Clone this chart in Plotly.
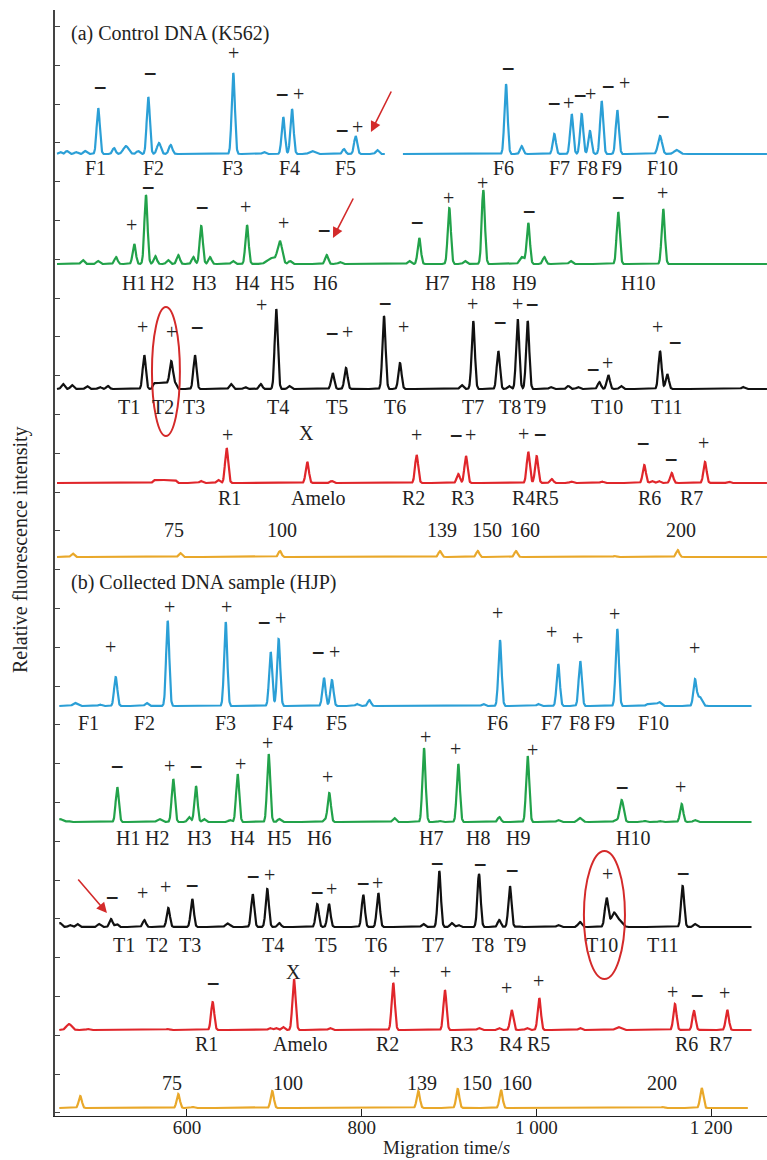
import numpy as np
import plotly.graph_objects as go

# ---------------- data (migration time in s, relative intensity in a.u.) ----------------
# each peak: (time, height[, sigma])
A_BLUE_BASE = 962
A_BLUE_PEAKS_1 = [(454.6, 2), (462.6, 3), (472.9, 2), (483.2, 3), (498.4, 46), (516.4, 6), (530.1, 8, 3.0),
                  (543.9, 3), (555.7, 57), (567.9, 11, 2.2), (581.3, 9, 2.0), (653.0, 81), (688.1, 2),
                  (710.2, 37), (720.2, 45), (743.1, 3, 3.0), (779.7, 5), (793.1, 18), (817.8, 4)]
A_BLUE_SPAN_1 = (451.2, 826.6)
A_BLUE_PEAKS_2 = [(965.2, 70), (983.1, 8), (1020.5, 20), (1040.4, 40), (1051.8, 40), (1061.3, 23),
                  (1074.7, 53), (1092.6, 44), (1141.5, 18, 2.3), (1160.6, 4, 3.0)]
A_BLUE_SPAN_2 = (847.2, 1264)

A_GREEN_BASE = 852
A_GREEN_PEAKS = [(480.6, 4), (498.1, 3), (518.7, 7), (539.6, 20), (553.0, 69), (563.7, 8), (578.2, 4),
                 (590.0, 9), (607.2, 7), (616.3, 38), (626.3, 7), (652.6, 3), (668.7, 39),
                 (697.3, 6, 5.0), (706.4, 22, 2.6), (717.9, 3), (759.9, 9), (775.1, 2), (854.5, 3),
                 (865.9, 26), (900.3, 56), (918.2, 3), (939.2, 74), (983.5, 7, 2.5), (990.7, 41),
                 (1009.0, 7), (1039.2, 3), (1093.7, 52), (1145.2, 55)]
A_GREEN_SPAN = (451.2, 1264)

A_BLACK_BASE = 727
A_BLACK_PEAKS = [(458.0, 5), (468.3, 4), (485.5, 3), (500.0, 2), (509.5, 3), (551.1, 34), (582.0, 22),
                 (609.1, 34), (650.3, 5), (666.4, 2), (684.4, 5), (702.2, 80), (717.1, 3), (766.8, 16),
                 (782.0, 21), (825.5, 73), (843.8, 26), (914.4, 4), (927.7, 68), (956.4, 38),
                 (968.6, 3), (978.6, 70), (990.0, 68), (1016.4, 2), (1036.5, 3), (1047.6, 2),
                 (1072.0, 7), (1082.3, 14), (1096.8, 3), (1141.5, 38), (1149.8, 15), (1236.5, 2)]
A_BLACK_PLATEAU = (560.7, 588.2, 6)
A_BLACK_SPAN = (451.2, 1264)

A_RED_BASE = 633
A_RED_PEAKS = [(616.0, 2), (635.8, 3), (645.4, 35), (737.7, 21), (765.6, 2), (862.9, 28), (910.6, 9),
               (919.4, 27), (990.7, 31), (1000.3, 27), (1017.5, 4), (1040.0, 1.5), (1075.0, 1.5),
               (1123.5, 18), (1132.3, 2), (1140.0, 2), (1154.9, 10), (1193.0, 21), (1220.0, 1.5)]
A_RED_PLATEAU = (560.7, 588.2, 3)
A_RED_SPAN = (451.2, 1264)

A_ORANGE_BASE = 559
A_ORANGE_PEAKS = [(469.1, 3.5), (592.3, 4), (706.4, 6), (889.6, 6), (932.8, 6), (976.6, 6),
                  (1089.9, 1), (1161.7, 7)]
A_ORANGE_SPAN = (451.2, 1264)

B_BLUE_BASE = 410
B_BLUE_PEAKS = [(471.8, 3, 2.5), (500.4, 1.5), (518.4, 29), (553.8, 3), (577.9, 85), (644.3, 84),
                (695.8, 54), (704.9, 67), (756.8, 28), (765.9, 26), (794.6, 2), (808.7, 6),
                (939.2, 2), (958.3, 66), (1002.1, 2), (1025.0, 42), (1050.2, 45), (1092.6, 77),
                (1141.5, 3), (1181.5, 26), (1187.0, 9, 2.5)]
B_BLUE_PLATEAU = (1125.0, 1141.0, 2)
B_BLUE_SPAN = (453.8, 1246.4)

B_GREEN_BASE = 294
B_GREEN_PEAKS = [(454.6, 3, 3.0), (463.7, 1), (520.2, 35), (568.3, 3, 2.5), (584.3, 43), (602.3, 5),
                 (610.3, 36), (619.4, 3), (649.2, 2), (658.0, 48), (693.5, 68), (705.6, 3),
                 (758.0, 2), (762.9, 29), (837.3, 4), (871.3, 74), (889.6, 1), (910.6, 58),
                 (957.5, 5), (990.0, 66), (1025.0, 2), (1049.9, 4, 2.5), (1090.5, 2), (1097.6, 22, 2.2),
                 (1124.3, 1), (1141.5, 1), (1166.3, 18), (1181.5, 2)]
B_GREEN_SPAN = (453.8, 1246.4)

B_BLACK_BASE = 189
B_BLACK_PEAKS = [(454.6, 4), (466.0, 2), (474.4, 3), (499.2, 3), (513.0, 8), (519.5, 3), (551.1, 7),
                 (578.6, 19), (606.0, 28), (645.4, 3), (648.5, 2), (675.2, 33), (691.9, 38),
                 (705.6, 4), (749.1, 23), (762.5, 23), (801.8, 32), (819.0, 34), (870.5, 3),
                 (888.8, 56), (903.0, 4), (910.6, 2), (934.3, 53), (957.5, 7), (969.7, 41),
                 (978.9, 1), (1025.0, 2), (1049.9, 5, 2.2), (1080.4, 29, 2.0), (1088.8, 14, 3.0),
                 (1095.7, 6, 3.0), (1167.4, 41), (1181.5, 3)]
B_BLACK_SPAN = (453.8, 1246.4)

B_RED_BASE = 86
B_RED_PEAKS = [(464.9, 6, 3.0), (486.6, 1), (578.2, 1), (629.4, 28), (695.0, 2), (701.9, 2),
               (709.9, 3), (722.5, 51), (763.7, 2), (836.1, 47), (895.3, 40), (934.3, 2),
               (957.1, 2), (971.7, 20), (989.2, 2), (1003.3, 32), (1049.9, 2), (1093.7, 3, 3.0),
               (1158.6, 26), (1180.4, 19), (1218.5, 20)]
B_RED_SPAN = (453.8, 1246.4)

B_ORANGE_BASE = 8
B_ORANGE_PEAKS = [(477.8, 12), (590.0, 14), (606.8, 1), (697.6, 17), (864.8, 17), (909.9, 19),
                  (959.5, 18), (1144.9, 1), (1189.2, 20)]
B_ORANGE_SPAN = (453.8, 1242.2)

# labels: (text, time, intensity)
A_BLUE_SIGNS = [("−", 500.4, 1029), ("−", 557.6, 1043), ("+", 653.8, 1063), ("−", 708.7, 1022),
                ("+", 728.2, 1022), ("−", 777.4, 986), ("+", 795.7, 989), ("−", 967.5, 1048),
                ("−", 1020.1, 1013), ("+", 1036.2, 1013), ("−", 1049.9, 1021), ("+", 1062.5, 1022),
                ("−", 1081.9, 1030), ("+", 1100.3, 1033), ("−", 1144.9, 1000)]
A_BLUE_LOCI = [("F1", 495.8), ("F2", 561.1), ("F3", 652.6), ("F4", 717.9), ("F5", 780.9),
               ("F6", 962.9), ("F7", 1027.0), ("F8", 1059.0), ("F9", 1086.5), ("F10", 1143.8)]
A_GREEN_SIGNS = [("+", 535.9, 891), ("−", 555.3, 929), ("−", 617.1, 909), ("+", 667.5, 909),
                 ("+", 711.0, 893), ("−", 756.8, 886), ("−", 863.3, 894), ("+", 899.9, 918),
                 ("+", 938.8, 933), ("−", 991.5, 905), ("−", 1093.4, 919), ("+", 1144.9, 923)]
A_GREEN_LOCI = [("H1", 539.3), ("H2", 571.4), ("H3", 619.5), ("H4", 668.7), ("H5", 708.7),
                ("H6", 757.9), ("H7", 886.2), ("H8", 938.8), ("H9", 985.8), ("H10", 1116.3)]
A_BLACK_SIGNS = [("+", 549.6, 789), ("+", 581.7, 784), ("−", 611.4, 789), ("+", 685.8, 811),
                 ("−", 766.0, 783), ("+", 784.3, 784), ("−", 826.6, 813), ("+", 848.4, 789),
                 ("+", 927.4, 812), ("−", 958.3, 794), ("+", 977.8, 812), ("−", 994.9, 812),
                 ("−", 1064.8, 747), ("+", 1081.9, 753), ("+", 1139.2, 789), ("−", 1158.6, 774)]
A_BLACK_LOCI = [("T1", 533.6), ("T2", 572.5), ("T3", 608.0), ("T4", 704.2), ("T5", 771.7),
                ("T6", 838.1), ("T7", 927.4), ("T8", 969.7), ("T9", 998.4), ("T10", 1080.8),
                ("T11", 1149.5)]
A_RED_SIGNS = [("+", 646.9, 681), ("X", 737.3, 683), ("+", 863.3, 681), ("−", 907.9, 681),
               ("+", 925.1, 681), ("+", 985.8, 682), ("−", 1004.1, 682), ("−", 1122.0, 673),
               ("−", 1154.1, 657), ("+", 1191.8, 673)]
A_RED_LOCI = [("R1", 649.2), ("Amelo", 749.9), ("R2", 859.8), ("R3", 915.9), ("R4R5", 998.4),
              ("R6", 1130.0), ("R7", 1178.1)]
A_SIZES = [("75", 585.1), ("100", 708.7), ("139", 891.9), ("150", 943.4), ("160", 986.9),
           ("200", 1165.5)]

B_BLUE_SIGNS = [("+", 513.0, 469), ("+", 580.5, 509), ("+", 645.8, 509), ("−", 688.1, 494),
                ("+", 707.6, 498), ("−", 749.9, 464), ("+", 768.3, 464), ("+", 954.9, 503),
                ("+", 1017.8, 484), ("+", 1047.6, 478), ("+", 1089.9, 502), ("+", 1181.5, 468)]
B_BLUE_LOCI = [("F1", 487.8), ("F2", 551.9), ("F3", 644.6), ("F4", 709.9), ("F5", 771.7),
               ("F6", 954.9), ("F7", 1017.8), ("F8", 1049.9), ("F9", 1078.5), ("F10", 1134.6)]
B_GREEN_SIGNS = [("−", 519.8, 350), ("+", 580.5, 350), ("−", 610.3, 350), ("+", 660.7, 352),
                 ("+", 692.7, 373), ("+", 761.4, 339), ("+", 873.6, 379), ("+", 907.9, 367),
                 ("+", 996.1, 366), ("−", 1098.0, 329), ("+", 1164.4, 329)]
B_GREEN_LOCI = [("H1", 532.4), ("H2", 565.6), ("H3", 613.7), ("H4", 662.9), ("H5", 705.3),
                ("H6", 751.1), ("H7", 879.3), ("H8", 933.1), ("H9", 979.1), ("H10", 1110.6)]
B_BLACK_SIGNS = [("−", 514.1, 219), ("+", 549.6, 223), ("+", 575.9, 229), ("−", 605.7, 231),
                 ("−", 675.5, 240), ("+", 693.9, 241), ("−", 748.8, 224), ("+", 766.0, 227),
                 ("−", 801.5, 233), ("+", 818.6, 233), ("−", 886.2, 253), ("−", 935.4, 252),
                 ("−", 972.0, 246), ("+", 1081.9, 242), ("−", 1167.8, 243)]
B_BLACK_LOCI = [("T1", 527.9), ("T2", 565.6), ("T3", 603.4), ("T4", 698.4), ("T5", 759.1),
                ("T6", 816.3), ("T7", 881.6), ("T8", 938.8), ("T9", 975.5), ("T10", 1075.1),
                ("T11", 1144.9)]
B_RED_SIGNS = [("−", 629.7, 133), ("X", 722.5, 144), ("+", 837.0, 144), ("+", 896.5, 144),
               ("+", 966.3, 128), ("+", 1002.9, 135), ("+", 1156.3, 124), ("−", 1183.8, 121),
               ("+", 1215.9, 123)]
B_RED_LOCI = [("R1", 622.9), ("Amelo", 729.3), ("R2", 830.1), ("R3", 913.7), ("R4", 970.9),
              ("R5", 1002.9), ("R6", 1172.4), ("R7", 1211.3)]
B_SIZES = [("75", 582.8), ("100", 715.6), ("139", 869.0), ("150", 932.0), ("160", 977.8),
           ("200", 1143.8)]

X_TICKS = [600, 800, 1000, 1200]
X_TICK_TEXT = ["600", "800", "1 000", "1 200"]

# ---------------- styling ----------------
BLUE = "#2b9fd6"
GREEN = "#22a24a"
BLACK = "#111111"
RED = "#e0262b"
ORANGE = "#e9a82a"
FONT = "Liberation Serif"
DEFAULT_SIGMA = 1.8


def trace_curve(base, peaks, span, plateau=None):
    t = np.arange(span[0], span[1] + 0.01, 0.25)
    y = np.full_like(t, float(base))
    for p in peaks:
        c, h = p[0], p[1]
        s = p[2] if len(p) > 2 else DEFAULT_SIGMA
        y += h * np.exp(-0.5 * ((t - c) / s) ** 2)
    if plateau is not None:
        a, b, h = plateau
        y += h * (1 / (1 + np.exp(-(t - a) / 0.6)) - 1 / (1 + np.exp(-(t - b) / 0.6)))
    return t, y


fig = go.Figure()
curves = [
    (A_BLUE_BASE, A_BLUE_PEAKS_1, A_BLUE_SPAN_1, None, BLUE),
    (A_BLUE_BASE, A_BLUE_PEAKS_2, A_BLUE_SPAN_2, None, BLUE),
    (A_GREEN_BASE, A_GREEN_PEAKS, A_GREEN_SPAN, None, GREEN),
    (A_BLACK_BASE, A_BLACK_PEAKS, A_BLACK_SPAN, A_BLACK_PLATEAU, BLACK),
    (A_RED_BASE, A_RED_PEAKS, A_RED_SPAN, A_RED_PLATEAU, RED),
    (A_ORANGE_BASE, A_ORANGE_PEAKS, A_ORANGE_SPAN, None, ORANGE),
    (B_BLUE_BASE, B_BLUE_PEAKS, B_BLUE_SPAN, B_BLUE_PLATEAU, BLUE),
    (B_GREEN_BASE, B_GREEN_PEAKS, B_GREEN_SPAN, None, GREEN),
    (B_BLACK_BASE, B_BLACK_PEAKS, B_BLACK_SPAN, None, BLACK),
    (B_RED_BASE, B_RED_PEAKS, B_RED_SPAN, None, RED),
    (B_ORANGE_BASE, B_ORANGE_PEAKS, B_ORANGE_SPAN, None, ORANGE),
]
for base, peaks, span, plat, col in curves:
    t, y = trace_curve(base, peaks, span, plat)
    fig.add_trace(go.Scatter(x=t, y=y, mode="lines", line=dict(color=col, width=2.2),
                             hoverinfo="skip", showlegend=False))

ann = []
TXT = dict(family=FONT, size=20, color="#222222")
TICKF = dict(family=FONT, size=19, color="#222222")
MINUS = dict(family="DejaVu Sans", size=17, color="#222222")


def add_signs(signs):
    for s, x, y in signs:
        if s == "−":
            ann.append(dict(x=x, y=y, text="<b>−</b>", showarrow=False, font=MINUS,
                            xanchor="center", yanchor="middle"))
        else:
            ann.append(dict(x=x, y=y, text=s, showarrow=False, font=TXT,
                            xanchor="center", yanchor="middle"))


def add_loci(loci, y):
    for s, x in loci:
        ann.append(dict(x=x, y=y, text=s, showarrow=False, font=TXT,
                        xanchor="center", yanchor="middle"))


add_signs(A_BLUE_SIGNS); add_loci(A_BLUE_LOCI, 948)
add_signs(A_GREEN_SIGNS); add_loci(A_GREEN_LOCI, 833)
add_signs(A_BLACK_SIGNS); add_loci(A_BLACK_LOCI, 709)
add_signs(A_RED_SIGNS); add_loci(A_RED_LOCI, 618)
add_loci(A_SIZES, 586)
add_signs(B_BLUE_SIGNS); add_loci(B_BLUE_LOCI, 393)
add_signs(B_GREEN_SIGNS); add_loci(B_GREEN_LOCI, 278)
add_signs(B_BLACK_SIGNS); add_loci(B_BLACK_LOCI, 171)
add_signs(B_RED_SIGNS); add_loci(B_RED_LOCI, 72)
add_loci(B_SIZES, 33)

ann.append(dict(x=464.9, y=1083, text="(a) Control DNA (K562)", showarrow=False, font=TXT,
                xanchor="left", yanchor="middle"))
ann.append(dict(x=464.9, y=534, text="(b) Collected DNA sample (HJP)", showarrow=False, font=TXT,
                xanchor="left", yanchor="middle"))
ann.append(dict(x=897.5, xref="x", y=-31 / 1106, yref="paper", text="Migration time/<i>s</i>",
                showarrow=False, font=dict(family=FONT, size=19, color="#222222"),
                xanchor="center", yanchor="middle"))
ann.append(dict(x=-35 / 712, xref="paper", y=566 / 1106, yref="paper",
                text="Relative fluorescence intensity", showarrow=False,
                font=TXT, textangle=-90, xanchor="center", yanchor="middle"))

# red arrows
for (hx, hy, tx, ty) in [(810.6, 984, 834.7, 1026), (767.1, 878, 791.2, 919), (508.4, 203, 474.0, 238)]:
    ann.append(dict(x=hx, y=hy, ax=tx, ay=ty, axref="x", ayref="y", xref="x", yref="y",
                    text="", showarrow=True, arrowhead=2, arrowsize=1.3, arrowwidth=1.6,
                    arrowcolor="#d32a2a"))

shapes = [
    dict(type="circle", xref="x", yref="y", x0=559.9, x1=591.9, y0=680, y1=809,
         line=dict(color="#d42a2a", width=2)),
    dict(type="circle", xref="x", yref="y", x0=1054.4, x1=1101.4, y0=137, y1=265,
         line=dict(color="#d42a2a", width=2)),
]

fig.update_layout(
    width=767, height=1160,
    margin=dict(l=55, r=0, t=10, b=44),
    paper_bgcolor="white", plot_bgcolor="white",
    annotations=ann, shapes=shapes,
    xaxis=dict(range=[448.9, 1264], showline=True, linecolor="#222", linewidth=1.2,
               ticks="inside", ticklen=7, tickcolor="#222", tickvals=X_TICKS,
               ticktext=X_TICK_TEXT, tickfont=TICKF, ticklabelstandoff=-6,
               showgrid=False, zeroline=False),
    yaxis=dict(range=[0, 1106], showline=True, linecolor="#444", linewidth=2,
               ticks="inside", ticklen=5, tickcolor="#444", tick0=3.2, dtick=38.8,
               showticklabels=False, showgrid=False, zeroline=False),
)

fig.write_html("out.html", config={"displayModeBar": False},
               post_script="document.body.style.margin='0px';")
